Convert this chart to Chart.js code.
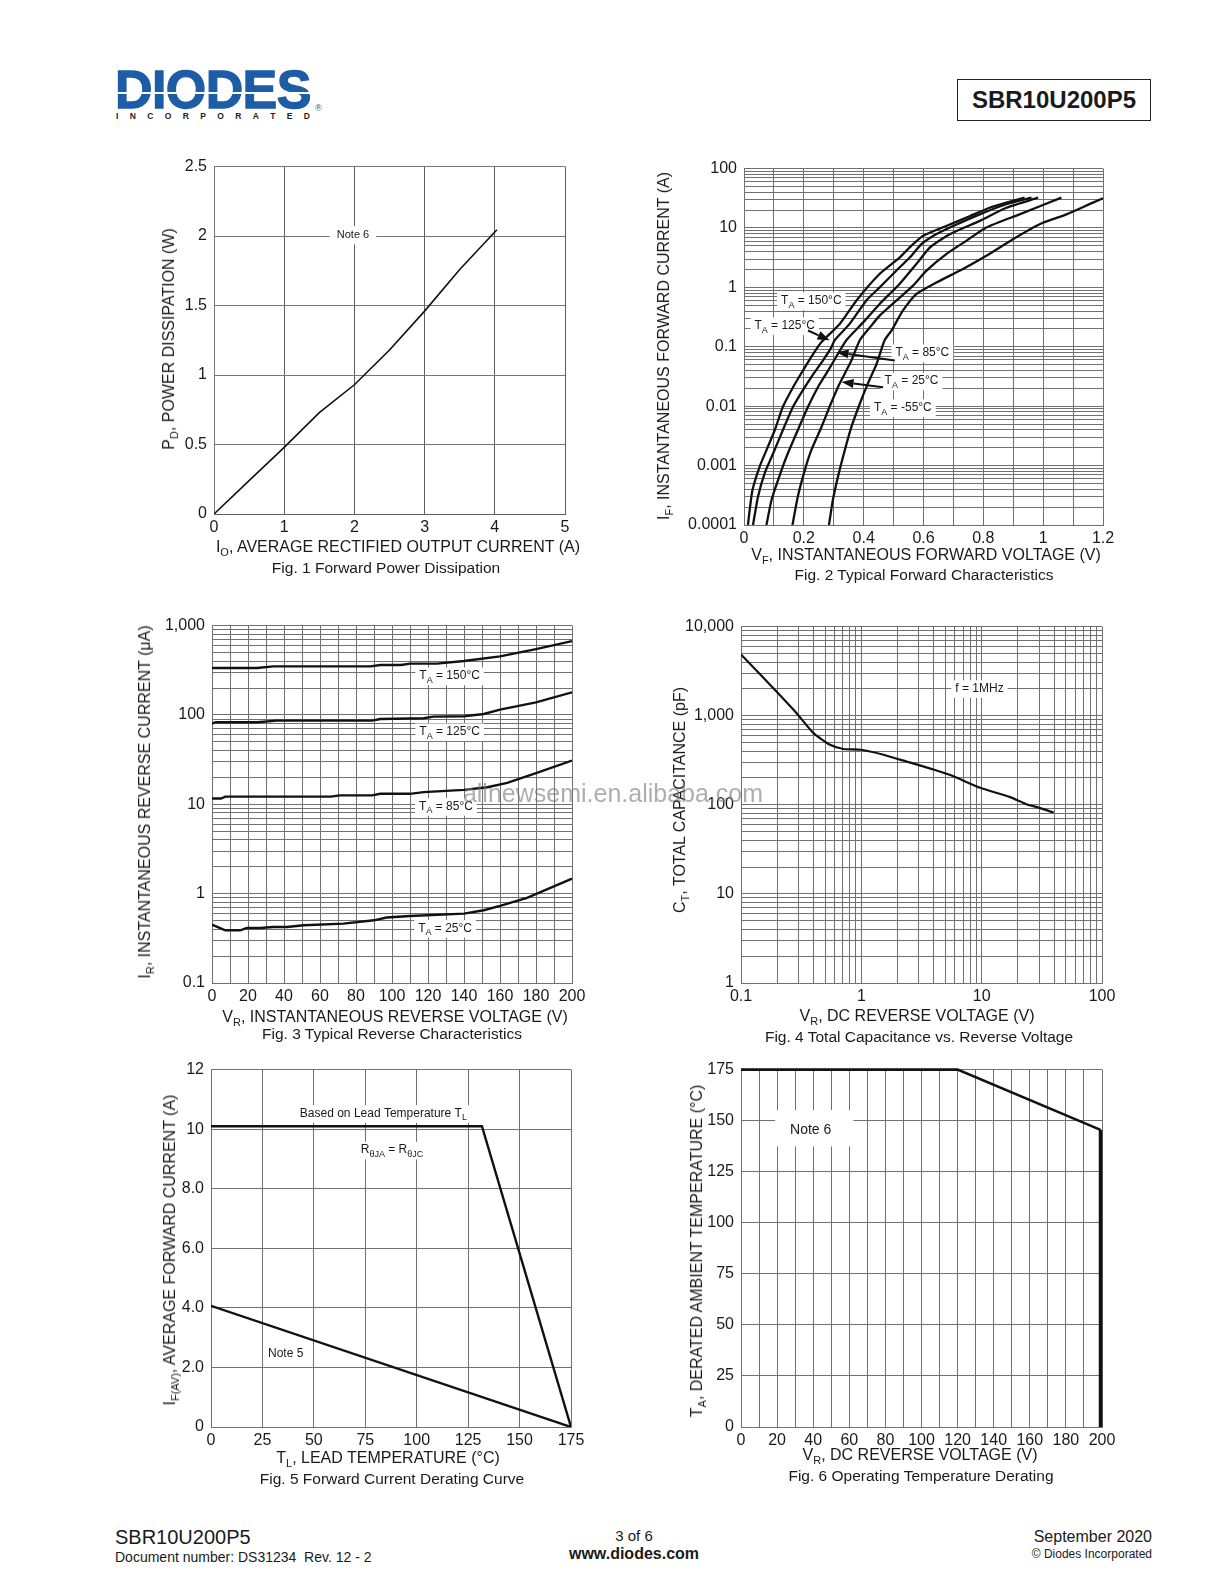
<!DOCTYPE html>
<html><head><meta charset="utf-8"><title>SBR10U200P5</title>
<script src="https://cdn.jsdelivr.net/npm/chart.js@4.4.1/dist/chart.umd.min.js"></script>
<style>
html,body{margin:0;padding:0;background:#fff}
body{width:1224px;height:1584px;position:relative;overflow:hidden;font-family:"Liberation Sans",Arial,Helvetica,sans-serif;color:#1a1a1a}
canvas{position:absolute}
.t{position:absolute;transform:translate(-50%,-50%);white-space:nowrap;line-height:1;font-size:16px}
.r{transform:translate(-50%,-50%) rotate(-90deg)}
.cap{font-size:15.5px}
.t sub{font-size:11px;vertical-align:baseline;position:relative;top:4px}
.a{position:absolute;white-space:nowrap;line-height:1}
</style></head><body>

<!-- header -->
<div class="a" style="left:115px;top:62px;font-weight:bold;font-size:52px;color:#1d5ca6;letter-spacing:-0.6px;-webkit-text-stroke:1.3px #1d5ca6;transform:scaleY(1.04);transform-origin:0 0">DIODES</div>
<div class="a" style="left:110px;top:92px;width:206px;height:2px;background:#fff"></div>
<div class="a" style="left:116px;top:112px;width:194px;display:flex;justify-content:space-between;font-weight:bold;font-size:8.5px;color:#222"><span>I</span><span>N</span><span>C</span><span>O</span><span>R</span><span>P</span><span>O</span><span>R</span><span>A</span><span>T</span><span>E</span><span>D</span></div>
<div class="a" style="left:315px;top:104px;font-size:9px;color:#1d5ca6">®</div>
<div class="a" style="left:957px;top:79px;width:192px;height:40px;border:1.5px solid #222;font-weight:bold;font-size:24px;text-align:center;line-height:40px">SBR10U200P5</div>

<canvas id="c1"></canvas><canvas id="c2"></canvas><canvas id="c3"></canvas>
<canvas id="c4"></canvas><canvas id="c5"></canvas><canvas id="c6"></canvas>

<!-- axis titles and captions -->
<div class="t r" style="left:169px;top:339px">P<sub>D</sub>, POWER DISSIPATION (W)</div>
<div class="t" style="left:398px;top:547px">I<sub>O</sub>, AVERAGE RECTIFIED OUTPUT CURRENT (A)</div>
<div class="t cap" style="left:386px;top:568px">Fig. 1 Forward Power Dissipation</div>

<div class="t r" style="left:664px;top:346px">I<sub>F</sub>, INSTANTANEOUS FORWARD CURRENT (A)</div>
<div class="t" style="left:926px;top:555px">V<sub>F</sub>, INSTANTANEOUS FORWARD VOLTAGE (V)</div>
<div class="t cap" style="left:924px;top:575px">Fig. 2 Typical Forward Characteristics</div>

<div class="t r" style="left:145px;top:802px">I<sub>R</sub>, INSTANTANEOUS REVERSE CURRENT (μA)</div>
<div class="t" style="left:395px;top:1017px">V<sub>R</sub>, INSTANTANEOUS REVERSE VOLTAGE (V)</div>
<div class="t cap" style="left:392px;top:1034px">Fig. 3 Typical Reverse Characteristics</div>

<div class="t r" style="left:680px;top:800px">C<sub>T</sub>, TOTAL CAPACITANCE (pF)</div>
<div class="t" style="left:917px;top:1016px">V<sub>R</sub>, DC REVERSE VOLTAGE (V)</div>
<div class="t cap" style="left:919px;top:1037px">Fig. 4 Total Capacitance vs. Reverse Voltage</div>

<div class="t r" style="left:170px;top:1250px">I<sub>F(AV)</sub>, AVERAGE FORWARD CURRENT (A)</div>
<div class="t" style="left:388px;top:1458px">T<sub>L</sub>, LEAD TEMPERATURE (°C)</div>
<div class="t cap" style="left:392px;top:1479px">Fig. 5 Forward Current Derating Curve</div>

<div class="t r" style="left:697px;top:1251px">T<sub>A</sub>, DERATED AMBIENT TEMPERATURE (°C)</div>
<div class="t" style="left:920px;top:1455px">V<sub>R</sub>, DC REVERSE VOLTAGE (V)</div>
<div class="t cap" style="left:921px;top:1476px">Fig. 6 Operating Temperature Derating</div>

<div class="t" style="left:613px;top:793px;font-size:25px;color:rgba(120,120,120,0.6)">allnewsemi.en.alibaba.com</div>

<!-- footer -->
<div class="a" style="left:115px;top:1527px;font-size:20px">SBR10U200P5</div>
<div class="a" style="left:115px;top:1550px;font-size:14px">Document number: DS31234&nbsp; Rev. 12 - 2</div>
<div class="t" style="left:634px;top:1535px;font-size:15px">3 of 6</div>
<div class="t" style="left:634px;top:1554px;font-size:16px;font-weight:bold">www.diodes.com</div>
<div class="a" style="right:72px;top:1529px;font-size:16px">September 2020</div>
<div class="a" style="right:72px;top:1548px;font-size:12px">© Diodes Incorporated</div>

<script>
// ---------------- DATA ----------------
// Fig. 1 Forward Power Dissipation
const fig1Current = [0, 0.5, 1, 1.5, 2, 2.5, 3, 3.5, 4.03];
const fig1Power   = [0, 0.24, 0.48, 0.73, 0.93, 1.18, 1.46, 1.76, 2.045];
const fig1XTickValues = [0, 1, 2, 3, 4, 5];
const fig1XTickLabels = ['0', '1', '2', '3', '4', '5'];
const fig1YTickValues = [0, 0.5, 1, 1.5, 2, 2.5];
const fig1YTickLabels = ['0', '0.5', '1', '1.5', '2', '2.5'];

// Fig. 2 Typical Forward Characteristics (V, A)
const fig2V150 = [0.013, 0.028, 0.052, 0.075, 0.103, 0.130, 0.164, 0.197, 0.225, 0.259, 0.320, 0.376, 0.453, 0.520, 0.559, 0.598, 0.676, 0.754, 0.821, 0.877, 0.938];
const fig2I150 = [1e-4, 3.8e-4, 9.55e-4, 1.82e-3, 3.98e-3, 9.77e-3, 0.0209, 0.0398, 0.0676, 0.120, 0.243, 0.603, 1.68, 3.18, 5.01, 7.36, 10.8, 15.8, 21.9, 26.7, 32.4];
const fig2V125 = [0.030, 0.047, 0.069, 0.097, 0.130, 0.164, 0.197, 0.225, 0.264, 0.292, 0.303, 0.353, 0.409, 0.4535, 0.509, 0.554, 0.593, 0.632, 0.699, 0.788, 0.877, 0.961];
const fig2I125 = [1e-4, 3.02e-4, 7.41e-4, 1.58e-3, 3.98e-3, 9.77e-3, 0.0186, 0.0309, 0.0589, 0.0977, 0.129, 0.243, 0.603, 1.0, 1.91, 3.18, 5.35, 7.36, 10.8, 17.0, 25.1, 32.4];
const fig2V85  = [0.075, 0.092, 0.114, 0.142, 0.175, 0.214, 0.247, 0.281, 0.314, 0.342, 0.400, 0.4535, 0.520, 0.576, 0.621, 0.688, 0.788, 0.877, 0.983];
const fig2I85  = [1e-4, 2.63e-4, 5.75e-4, 1.41e-3, 3.47e-3, 9.77e-3, 0.0209, 0.0398, 0.0759, 0.129, 0.263, 0.526, 1.14, 2.47, 4.69, 7.87, 13.2, 21.9, 32.4];
const fig2V25  = [0.162, 0.180, 0.203, 0.225, 0.259, 0.286, 0.314, 0.337, 0.359, 0.387, 0.420, 0.4535, 0.509, 0.565, 0.610, 0.676, 0.743, 0.810, 0.921, 1.061];
const fig2I25  = [1e-4, 3.02e-4, 8.32e-4, 1.82e-3, 4.47e-3, 9.77e-3, 0.0209, 0.0355, 0.0589, 0.129, 0.209, 0.335, 0.598, 1.07, 1.91, 3.63, 6.08, 10.2, 17.0, 32.4];
const fig2Vm55 = [0.284, 0.297, 0.314, 0.337, 0.359, 0.387, 0.414, 0.443, 0.470, 0.493, 0.531, 0.576, 0.643, 0.732, 0.810, 0.899, 0.988, 1.078, 1.166, 1.200];
const fig2Im55 = [1e-4, 2.63e-4, 6.46e-4, 1.82e-3, 4.47e-3, 0.011, 0.024, 0.0513, 0.129, 0.187, 0.406, 0.774, 1.21, 2.04, 3.40, 6.49, 11.6, 17.0, 26.7, 31.6];
const fig2XTickValues = [0, 0.2, 0.4, 0.6, 0.8, 1, 1.2];
const fig2XTickLabels = ['0', '0.2', '0.4', '0.6', '0.8', '1', '1.2'];
const fig2YTickValues = [0.0001, 0.001, 0.01, 0.1, 1, 10, 100];
const fig2YTickLabels = ['0.0001', '0.001', '0.01', '0.1', '1', '10', '100'];

// Fig. 3 Typical Reverse Characteristics (V, uA)
const fig3V150 = [0, 25, 34, 88, 93.5, 105, 110, 125, 140, 160, 180, 200];
const fig3I150 = [335, 335, 350, 350, 362, 362, 375, 375, 401, 452, 546, 671];
const fig3V125 = [0, 2, 25, 36, 89, 93.5, 117.6, 123, 140, 151, 160, 180, 200];
const fig3I125 = [80, 83, 83, 86.5, 86.5, 90.2, 91.8, 95.8, 96.7, 102.6, 114.7, 138, 179];
const fig3V85  = [0, 5, 7.4, 66, 71, 89, 93.5, 110, 117.6, 140, 153, 164, 180, 200];
const fig3I85  = [11.6, 11.6, 12.2, 12.2, 12.6, 12.6, 13.1, 13.1, 13.7, 14.5, 15.5, 17.4, 22.3, 30.9];
const fig3V25  = [0, 7.4, 15.7, 19.4, 26.9, 34, 41.7, 51, 73, 90, 97, 110, 140, 151, 160, 175, 200];
const fig3I25  = [0.45, 0.389, 0.389, 0.413, 0.413, 0.424, 0.424, 0.443, 0.462, 0.503, 0.54, 0.563, 0.598, 0.652, 0.728, 0.895, 1.47];
const fig3XTickValues = [0, 20, 40, 60, 80, 100, 120, 140, 160, 180, 200];
const fig3XTickLabels = ['0', '20', '40', '60', '80', '100', '120', '140', '160', '180', '200'];
const fig3YTickValues = [0.1, 1, 10, 100, 1000];
const fig3YTickLabels = ['0.1', '1', '10', '100', '1,000'];

// Fig. 4 Total Capacitance vs. Reverse Voltage (V, pF)
const fig4Voltage = [0.1, 0.198, 0.29, 0.40, 0.55, 0.71, 1.0, 1.53, 2.1, 3.98, 5.83, 9.73, 17.3, 23.8, 29.7, 39.6];
const fig4Cap     = [4877, 1854, 1065, 637, 472, 423, 415, 365, 321, 249, 209, 155, 122, 101, 93, 81.8];
const fig4XTickValues = [0.1, 1, 10, 100];
const fig4XTickLabels = ['0.1', '1', '10', '100'];
const fig4YTickValues = [1, 10, 100, 1000, 10000];
const fig4YTickLabels = ['1', '10', '100', '1,000', '10,000'];

// Fig. 5 Forward Current Derating Curve (degC, A)
const fig5TempLead   = [0, 131.7, 175];
const fig5CurrentLead = [10.1, 10.1, 0];
const fig5TempNote5   = [0, 175];
const fig5CurrentNote5 = [4.07, 0];
const fig5XTickValues = [0, 25, 50, 75, 100, 125, 150, 175];
const fig5XTickLabels = ['0', '25', '50', '75', '100', '125', '150', '175'];
const fig5YTickValues = [0, 2, 4, 6, 8, 10, 12];
const fig5YTickLabels = ['0', '2.0', '4.0', '6.0', '8.0', '10', '12'];

// Fig. 6 Operating Temperature Derating (V, degC)
const fig6Voltage = [0, 120, 199.2, 199.2];
const fig6Temp    = [175, 175, 145.5, 0];
const fig6XTickValues = [0, 20, 40, 60, 80, 100, 120, 140, 160, 180, 200];
const fig6XTickLabels = ['0', '20', '40', '60', '80', '100', '120', '140', '160', '180', '200'];
const fig6YTickValues = [0, 25, 50, 75, 100, 125, 150, 175];
const fig6YTickLabels = ['0', '25', '50', '75', '100', '125', '150', '175'];

// ---------------- HELPERS ----------------
const FONT = '"Liberation Sans", Arial, Helvetica, sans-serif';
const GRID = '#707070';

function linGrid(min, max, step) {
  const a = []; const n = Math.round((max - min) / step);
  for (let i = 0; i <= n; i++) a.push(+(min + i * step).toFixed(6));
  return a;
}
function logGrid(min, max) {
  const a = [];
  for (let e = Math.round(Math.log10(min)); e < Math.round(Math.log10(max)); e++)
    for (let m = 1; m < 10; m++) a.push(+(m * Math.pow(10, e)).toPrecision(6));
  a.push(max);
  return a;
}
function pts(xs, ys) { return xs.map((v, i) => ({x: v, y: ys[i]})); }

function drawRich(ctx, str, cx, cy, size, bg, padX, padY) {
  const parts = []; const re = /_\{([^}]*)\}/g; let last = 0, m;
  while ((m = re.exec(str))) {
    if (m.index > last) parts.push({t: str.slice(last, m.index)});
    parts.push({t: m[1], sub: true}); last = re.lastIndex;
  }
  if (last < str.length) parts.push({t: str.slice(last)});
  const fMain = size + 'px ' + FONT, fSub = Math.round(size * 0.75) + 'px ' + FONT;
  let w = 0;
  parts.forEach(p => { ctx.font = p.sub ? fSub : fMain; p.w = ctx.measureText(p.t).width; w += p.w; });
  let x = cx - w / 2;
  if (bg) { ctx.fillStyle = '#fff'; ctx.fillRect(x - padX, cy - size * 0.6 - padY, w + 2 * padX, size * 1.3 + 2 * padY); }
  ctx.fillStyle = '#1a1a1a'; ctx.textBaseline = 'middle'; ctx.textAlign = 'left';
  parts.forEach(p => { ctx.font = p.sub ? fSub : fMain; ctx.fillText(p.t, x, cy + (p.sub ? size * 0.38 : 0)); x += p.w; });
}
function arrow(ctx, x1, y1, x2, y2) {
  const ang = Math.atan2(y2 - y1, x2 - x1), L = 12, W = 4.5;
  const bx = x2 - L * Math.cos(ang), by = y2 - L * Math.sin(ang);
  ctx.strokeStyle = '#111'; ctx.lineWidth = 2;
  ctx.beginPath(); ctx.moveTo(x1, y1); ctx.lineTo(bx, by); ctx.stroke();
  ctx.beginPath(); ctx.moveTo(x2, y2);
  ctx.lineTo(bx + W * Math.sin(ang), by - W * Math.cos(ang));
  ctx.lineTo(bx - W * Math.sin(ang), by + W * Math.cos(ang));
  ctx.closePath(); ctx.fillStyle = '#111'; ctx.fill();
}
function makeAnno(o) {
  o = o || {};
  return {
    id: 'anno',
    beforeDatasetsDraw(chart) {
      const ctx = chart.ctx, xs = chart.scales.x, ys = chart.scales.y;
      ctx.save();
      (o.boxes || []).forEach(b => {
        const x1 = xs.getPixelForValue(b.x1), x2 = xs.getPixelForValue(b.x2);
        const y1 = ys.getPixelForValue(b.y1), y2 = ys.getPixelForValue(b.y2);
        ctx.fillStyle = '#fff';
        ctx.fillRect(Math.min(x1, x2), Math.min(y1, y2), Math.abs(x2 - x1), Math.abs(y2 - y1));
      });
      (o.labels || []).forEach(l => drawRich(ctx, l.text, xs.getPixelForValue(l.x), ys.getPixelForValue(l.y),
        l.size || 12, l.bg !== false, l.px !== undefined ? l.px : 4, l.py !== undefined ? l.py : 1));
      ctx.restore();
    },
    afterDatasetsDraw(chart) {
      const ctx = chart.ctx, xs = chart.scales.x, ys = chart.scales.y;
      ctx.save();
      (o.arrows || []).forEach(a => arrow(ctx, xs.getPixelForValue(a.x1), ys.getPixelForValue(a.y1),
        xs.getPixelForValue(a.x2), ys.getPixelForValue(a.y2)));
      ctx.restore();
    }
  };
}
function axis(a, horiz, size) {
  return {
    type: a.type || 'linear', min: a.min, max: a.max, position: horiz ? 'bottom' : 'left',
    afterBuildTicks: s => { s.ticks = a.grid.map(v => ({value: v})); },
    afterFit: s => { if (horiz) s.height = size; else s.width = size; },
    ticks: {
      autoSkip: false, maxRotation: 0, minRotation: 0, padding: horiz ? 4 : 7, color: '#1a1a1a',
      font: {family: FONT, size: a.fs || 16},
      callback: (v) => {
        const i = a.vals.findIndex(t => Math.abs(t - v) <= Math.abs(t) * 1e-6 + 1e-9);
        return i < 0 ? '' : a.labels[i];
      }
    },
    grid: {color: a.gc || GRID, lineWidth: 1, drawTicks: false},
    border: {display: true, color: a.gc || GRID, width: 1}
  };
}
function makeChart(id, area, cfg) {
  const padL = 72, padT = 14, padR = 24, padB = 30;
  const cv = document.getElementById(id);
  const w = area[2] - area[0] + padL + padR, h = area[3] - area[1] + padT + padB;
  Object.assign(cv.style, {left: (area[0] - padL) + 'px', top: (area[1] - padT) + 'px', width: w + 'px', height: h + 'px'});
  cv.width = w; cv.height = h;
  const datasets = cfg.series.map(s => {
    const d = {data: s.data, showLine: true, borderColor: '#111', backgroundColor: '#111',
      borderWidth: s.w || 2, pointRadius: 0, tension: s.tension || 0, fill: false};
    if (s.clip === false) d.clip = false;
    return d;
  });
  return new Chart(cv, {
    type: 'scatter',
    data: {datasets},
    options: {
      responsive: false, animation: false, events: [],
      layout: {padding: {left: 0, top: padT, right: padR, bottom: 0}},
      plugins: {legend: {display: false}, tooltip: {enabled: false}},
      scales: {x: axis(cfg.x, true, padB), y: axis(cfg.y, false, padL)}
    },
    plugins: [makeAnno(cfg.anno)]
  });
}

// ---------------- CHARTS ----------------
makeChart('c1', [214, 164, 565, 514], {
  series: [{data: pts(fig1Current, fig1Power), w: 1.6}],
  x: {min: 0, max: 5, grid: linGrid(0, 5, 1), vals: fig1XTickValues, labels: fig1XTickLabels, gc: '#5e5e5e'},
  y: {min: 0, max: 2.5, grid: linGrid(0, 2.5, 0.5), vals: fig1YTickValues, labels: fig1YTickLabels, gc: '#777'},
  anno: {labels: [{text: 'Note 6', x: 1.98, y: 2.01, size: 11, px: 7, py: 2}]}
});

makeChart('c2', [744, 166, 1103, 525], {
  series: [
    {data: pts(fig2V150, fig2I150), w: 2.3, tension: 0.2},
    {data: pts(fig2V125, fig2I125), w: 2.3, tension: 0.2},
    {data: pts(fig2V85, fig2I85), w: 2.3, tension: 0.2},
    {data: pts(fig2V25, fig2I25), w: 2.3, tension: 0.2},
    {data: pts(fig2Vm55, fig2Im55), w: 2.3, tension: 0.2}
  ],
  x: {min: 0, max: 1.2, grid: linGrid(0, 1.2, 0.1), vals: fig2XTickValues, labels: fig2XTickLabels},
  y: {type: 'logarithmic', min: 0.0001, max: 100, grid: logGrid(0.0001, 100), vals: fig2YTickValues, labels: fig2YTickLabels},
  anno: {
    labels: [
      {text: 'T_{A} = 150°C', x: 0.225, y: 0.597},
      {text: 'T_{A} = 125°C', x: 0.136, y: 0.228},
      {text: 'T_{A} = 85°C', x: 0.596, y: 0.0794},
      {text: 'T_{A} = 25°C', x: 0.560, y: 0.0265},
      {text: 'T_{A} = -55°C', x: 0.531, y: 0.0095}
    ],
    arrows: [
      {x1: 0.214, y1: 0.188, x2: 0.286, y2: 0.129},
      {x1: 0.504, y1: 0.059, x2: 0.309, y2: 0.081},
      {x1: 0.465, y1: 0.0209, x2: 0.326, y2: 0.0255}
    ]
  }
});

makeChart('c3', [212, 623, 572, 983], {
  series: [
    {data: pts(fig3V150, fig3I150), w: 2.4},
    {data: pts(fig3V125, fig3I125), w: 2.4},
    {data: pts(fig3V85, fig3I85), w: 2.4},
    {data: pts(fig3V25, fig3I25), w: 2.4}
  ],
  x: {min: 0, max: 200, grid: linGrid(0, 200, 10), vals: fig3XTickValues, labels: fig3XTickLabels},
  y: {type: 'logarithmic', min: 0.1, max: 1000, grid: logGrid(0.1, 1000), vals: fig3YTickValues, labels: fig3YTickLabels},
  anno: {labels: [
    {text: 'T_{A} = 150°C', x: 132, y: 275},
    {text: 'T_{A} = 125°C', x: 132, y: 65},
    {text: 'T_{A} = 85°C', x: 130, y: 9.5},
    {text: 'T_{A} = 25°C', x: 129.5, y: 0.41}
  ]}
});

makeChart('c4', [741, 624, 1102, 983], {
  series: [{data: pts(fig4Voltage, fig4Cap), w: 2.2, tension: 0.2}],
  x: {type: 'logarithmic', min: 0.1, max: 100, grid: logGrid(0.1, 100), vals: fig4XTickValues, labels: fig4XTickLabels},
  y: {type: 'logarithmic', min: 1, max: 10000, grid: logGrid(1, 10000), vals: fig4YTickValues, labels: fig4YTickLabels},
  anno: {labels: [{text: 'f = 1MHz', x: 9.6, y: 2018, px: 4, py: 1}]}
});

makeChart('c5', [211, 1067, 571, 1427], {
  series: [
    {data: pts(fig5TempLead, fig5CurrentLead), w: 2.4},
    {data: pts(fig5TempNote5, fig5CurrentNote5), w: 2.4}
  ],
  x: {min: 0, max: 175, grid: linGrid(0, 175, 25), vals: fig5XTickValues, labels: fig5XTickLabels},
  y: {min: 0, max: 12, grid: linGrid(0, 12, 2), vals: fig5YTickValues, labels: fig5YTickLabels},
  anno: {labels: [
    {text: 'Based on Lead Temperature T_{L}', x: 83.8, y: 10.53, px: 3, py: 1},
    {text: 'R_{θJA} = R_{θJC}', x: 88, y: 9.3, px: 3, py: 1},
    {text: 'Note 5', x: 36.3, y: 2.45, bg: false}
  ]}
});

makeChart('c6', [741, 1067, 1102, 1427], {
  series: [
    {data: pts(fig6Voltage.slice(0, 3), fig6Temp.slice(0, 3)), w: 2.6, clip: false},
    {data: pts(fig6Voltage.slice(2), fig6Temp.slice(2)), w: 3.6, clip: false}
  ],
  x: {min: 0, max: 200, grid: linGrid(0, 200, 10), vals: fig6XTickValues, labels: fig6XTickLabels},
  y: {min: 0, max: 175, grid: linGrid(0, 175, 25), vals: fig6YTickValues, labels: fig6YTickLabels},
  anno: {
    boxes: [{x1: 18.9, x2: 62.3, y1: 137.4, y2: 155.2}],
    labels: [{text: 'Note 6', x: 38.6, y: 145.6, size: 14, bg: false}]
  }
});
</script>
</body></html>
